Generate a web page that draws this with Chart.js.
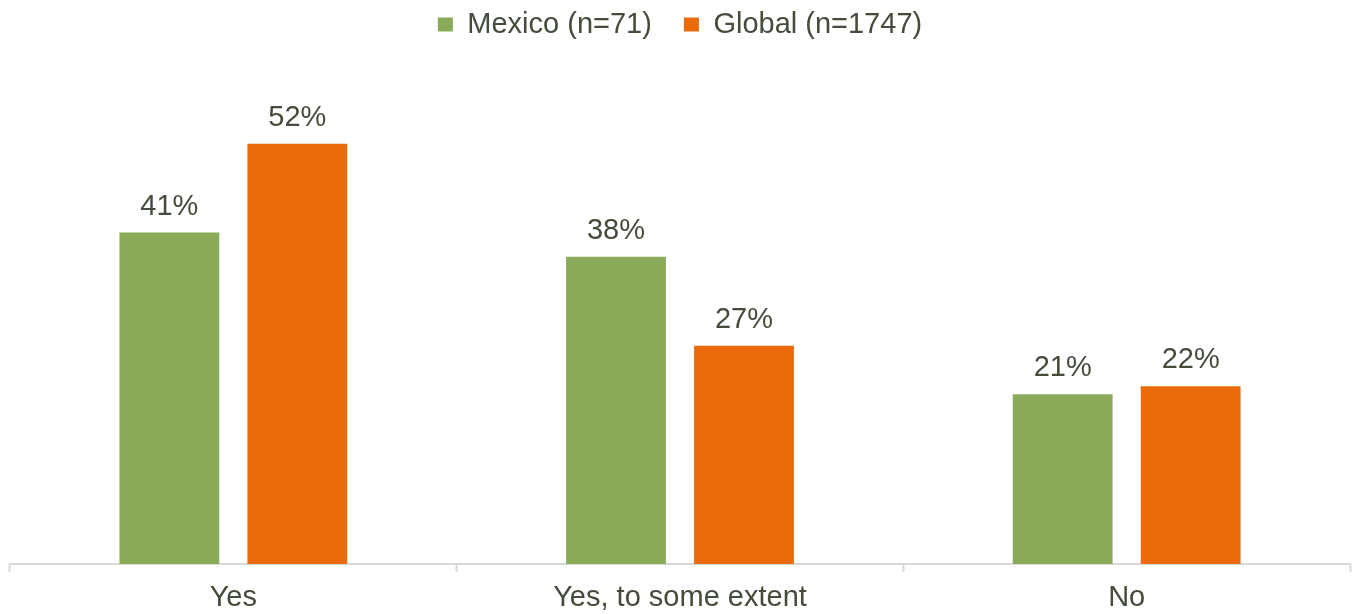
<!DOCTYPE html>
<html>
<head>
<meta charset="utf-8">
<script src="https://cdn.jsdelivr.net/npm/chart.js@4.4.0/dist/chart.umd.min.js"></script>
<style>
  html, body { margin: 0; padding: 0; background: #ffffff; }
  #wrap { width: 1356px; height: 614px; }
</style>
</head>
<body>
<div id="wrap"><canvas id="answer-chart" width="1356" height="614"></canvas></div>
<script>
// Chart data
const categories = ['Yes', 'Yes, to some extent', 'No'];
const seriesNames = ['Mexico (n=71)', 'Global (n=1747)'];
const mexicoValues = [41, 38, 21];
const globalValues = [52, 27, 22];

const textColor = '#444d3b';
const fontFamily = '"Liberation Sans", Arial, sans-serif';

// draws the "41%" style labels over every bar
const barLabels = {
    id: 'barLabels',
    afterDatasetsDraw(chart) {
        const ctx = chart.ctx;
        ctx.save();
        ctx.font = '29px ' + fontFamily;
        ctx.fillStyle = textColor;
        ctx.textAlign = 'center';
        ctx.textBaseline = 'alphabetic';
        chart.data.datasets.forEach((ds, i) => {
            chart.getDatasetMeta(i).data.forEach((bar, j) => {
                ctx.fillText(ds.data[j] + '%', bar.x, bar.y - 18);
            });
        });
        ctx.restore();
    }
};

// fixed legend block height, and pull the legend up a bit since
// the big label padding (used for the gap between items) pushes it down
const legendTweak = {
    id: 'legendTweak',
    beforeInit(chart) {
        const legend = chart.legend;
        const fit = legend.fit;
        legend.fit = function () {
            fit.call(this);
            this.height = 79;
        };
        const draw = legend.draw;
        legend.draw = function () {
            this.ctx.save();
            this.ctx.translate(0, -22);
            draw.call(this);
            this.ctx.restore();
        };
    }
};

const chartConfig = {
    type: 'bar',
    data: {
        labels: categories,
        datasets: [
            {
                label: seriesNames[0],
                data: mexicoValues,
                backgroundColor: '#8aab5a',
                categoryPercentage: 0.573,
                barPercentage: 0.78
            },
            {
                label: seriesNames[1],
                data: globalValues,
                backgroundColor: '#eb6a0a',
                categoryPercentage: 0.573,
                barPercentage: 0.78
            }
        ]
    },
    options: {
        responsive: false,
        animation: false,
        layout: {
            padding: { left: 10, right: 6, top: 0, bottom: 0 }
        },
        scales: {
            x: {
                afterFit(scale) {
                    scale.height = 50;
                },
                grid: {
                    drawOnChartArea: false,
                    drawTicks: true,
                    tickLength: 8,
                    tickWidth: 2,
                    tickColor: '#d9d9d9'
                },
                border: { color: '#d9d9d9', width: 2 },
                ticks: {
                    color: textColor,
                    font: { family: fontFamily, size: 29, lineHeight: '30px' },
                    padding: 11
                }
            },
            y: {
                display: false,
                min: 0,
                max: 60
            }
        },
        plugins: {
            legend: {
                position: 'top',
                labels: {
                    color: textColor,
                    font: { family: fontFamily, size: 29 },
                    boxWidth: 15,
                    boxHeight: 14,
                    padding: 32
                }
            },
            tooltip: { enabled: false }
        }
    },
    plugins: [barLabels, legendTweak]
};

const answerChart = new Chart(document.getElementById('answer-chart').getContext('2d'), chartConfig);
</script>
</body>
</html>
